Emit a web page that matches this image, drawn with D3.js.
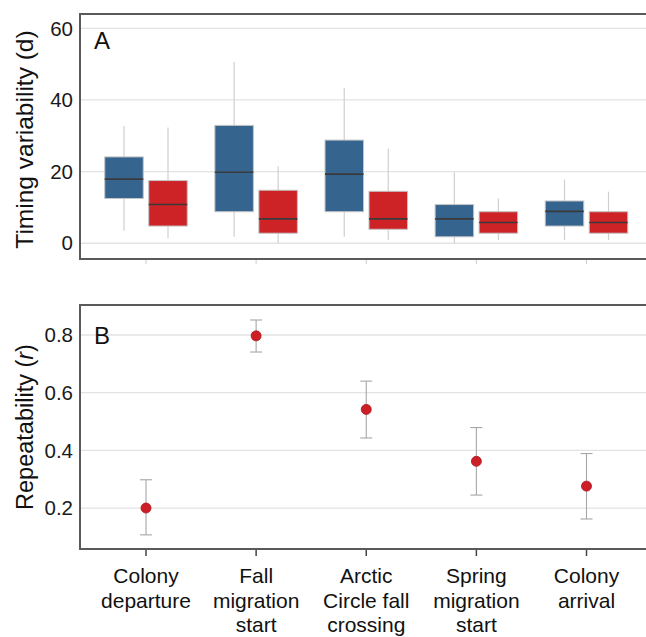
<!DOCTYPE html>
<html>
<head>
<meta charset="utf-8">
<script src="https://cdn.jsdelivr.net/npm/d3@7"></script>
<style>
  body { margin: 0; background: #fff; }
  svg { display: block; font-family: "Liberation Sans", Arial, sans-serif; }
</style>
</head>
<body>
<svg id="chart" width="646" height="637"></svg>
<script>
// ---- data ----
const categories = ["Colony departure", "Fall migration start", "Arctic Circle fall crossing", "Spring migration start", "Colony arrival"];
const categoryLines = [["Colony", "departure"], ["Fall", "migration", "start"], ["Arctic", "Circle fall", "crossing"], ["Spring", "migration", "start"], ["Colony", "arrival"]];
// box stats: [whiskerLow, q1, median, q3, whiskerHigh]
const blueBoxes = [
  [3.5, 12.5, 17.9, 24.1, 32.8],
  [1.8, 8.8, 19.8, 32.9, 50.6],
  [1.8, 8.8, 19.3, 28.8, 43.4],
  [0.0, 1.8, 6.8, 10.8, 19.8],
  [0.9, 4.8, 8.9, 11.8, 17.8]
];
const redBoxes = [
  [1.4, 4.8, 10.8, 17.5, 32.3],
  [0.0, 2.8, 6.8, 14.8, 21.5],
  [0.9, 3.9, 6.8, 14.5, 26.4],
  [0.9, 2.8, 5.8, 8.8, 12.5],
  [0.9, 2.8, 5.8, 8.8, 14.4]
];
const repeatability = [0.200, 0.797, 0.542, 0.362, 0.276];
const repLow = [0.107, 0.741, 0.443, 0.245, 0.162];
const repHigh = [0.298, 0.852, 0.640, 0.479, 0.389];
const ticksA = [0, 20, 40, 60];
const ticksB = [0.2, 0.4, 0.6, 0.8];

// ---- layout ----
const svg = d3.select("#chart");
const left = 80, right = 662;
const x = d3.scalePoint().domain(categories).range([146, 586.5]);
const yA = d3.scaleLinear().domain([-4.4, 64]).range([259, 14]);
const yB = d3.scaleLinear().domain([0.058, 0.904]).range([549, 305]);

const blue = "#35648f", red = "#cd2327";
const boxW = 38.5, off = 22;

function frame(y, ticks, fmt) {
  const g = svg.append("g");
  g.selectAll("line.grid").data(ticks).join("line")
    .attr("x1", left).attr("x2", right)
    .attr("y1", d => y(d)).attr("y2", d => y(d))
    .attr("stroke", "#e3e3e3").attr("stroke-width", 1.3);
  g.selectAll("text.tick").data(ticks).join("text")
    .attr("x", 73).attr("y", d => y(d)).attr("dy", "0.35em")
    .attr("text-anchor", "end").attr("font-size", 20.5).attr("fill", "#1a1a1a")
    .text(fmt);
  return g;
}
function border(y) {
  const [y0, y1] = y.range();
  svg.append("path")
    .attr("d", `M${right},${y1}H${left}V${y0}H${right}`)
    .attr("fill", "none").attr("stroke", "#5a5a5a").attr("stroke-width", 2);
}

// ---- panel A ----
frame(yA, ticksA, d => d);
// x ticks (light)
svg.append("g").selectAll("line").data(categories).join("line")
  .attr("x1", d => x(d)).attr("x2", d => x(d))
  .attr("y1", 259).attr("y2", 264)
  .attr("stroke", "#cccccc").attr("stroke-width", 1);

function drawBoxes(data, dx, color) {
  const g = svg.append("g");
  const grp = g.selectAll("g").data(data).join("g")
    .attr("transform", (d, i) => `translate(${x(categories[i]) + dx},0)`);
  grp.append("line")
    .attr("x1", 0).attr("x2", 0)
    .attr("y1", d => yA(d[0])).attr("y2", d => yA(d[4]))
    .attr("stroke", "#cfcfcf").attr("stroke-width", 1.2);
  grp.append("rect")
    .attr("x", -boxW / 2).attr("width", boxW)
    .attr("y", d => yA(d[3])).attr("height", d => yA(d[1]) - yA(d[3]))
    .attr("fill", color).attr("stroke", "#c4c4c4").attr("stroke-width", 1);
  grp.append("line")
    .attr("x1", -boxW / 2).attr("x2", boxW / 2)
    .attr("y1", d => yA(d[2])).attr("y2", d => yA(d[2]))
    .attr("stroke", "#3a3a3a").attr("stroke-width", 1.6);
}
drawBoxes(blueBoxes, -off, blue);
drawBoxes(redBoxes, off, red);
border(yA);

svg.append("text").attr("x", 94).attr("y", 49)
  .attr("font-size", 24).attr("fill", "#111").text("A");
svg.append("text")
  .attr("transform", `translate(33,${(14 + 259) / 2 + 3}) rotate(-90)`)
  .attr("text-anchor", "middle").attr("font-size", 24.5).attr("fill", "#111")
  .text("Timing variability (d)");

// ---- panel B ----
frame(yB, ticksB, d => d.toFixed(1));
const gB = svg.append("g");
const pts = gB.selectAll("g").data(repeatability).join("g")
  .attr("transform", (d, i) => `translate(${x(categories[i])},0)`);
pts.append("line")
  .attr("x1", 0).attr("x2", 0)
  .attr("y1", (d, i) => yB(repLow[i])).attr("y2", (d, i) => yB(repHigh[i]))
  .attr("stroke", "#a6a6a6").attr("stroke-width", 1.1);
pts.append("line")
  .attr("x1", -6).attr("x2", 6)
  .attr("y1", (d, i) => yB(repLow[i])).attr("y2", (d, i) => yB(repLow[i]))
  .attr("stroke", "#a6a6a6").attr("stroke-width", 1.1);
pts.append("line")
  .attr("x1", -6).attr("x2", 6)
  .attr("y1", (d, i) => yB(repHigh[i])).attr("y2", (d, i) => yB(repHigh[i]))
  .attr("stroke", "#a6a6a6").attr("stroke-width", 1.1);
pts.append("circle")
  .attr("cx", 0).attr("cy", d => yB(d)).attr("r", 5)
  .attr("fill", "#cc1f26").attr("stroke", "#a8161c").attr("stroke-width", 0.8);

// x ticks B
svg.append("g").selectAll("line").data(categories).join("line")
  .attr("x1", d => x(d)).attr("x2", d => x(d))
  .attr("y1", 549).attr("y2", 556)
  .attr("stroke", "#444").attr("stroke-width", 1.5);
border(yB);

// x labels
const lab = svg.append("g").selectAll("text").data(categories).join("text")
  .attr("text-anchor", "middle").attr("font-size", 21).attr("fill", "#111");
lab.each(function(d, i) {
  d3.select(this).selectAll("tspan").data(categoryLines[i]).join("tspan")
    .attr("x", x(d)).attr("y", (t, j) => 583 + j * 24.5).text(t => t);
});

svg.append("text").attr("x", 94).attr("y", 344)
  .attr("font-size", 24).attr("fill", "#111").text("B");
const tB = svg.append("text")
  .attr("transform", `translate(33,${(305 + 549) / 2}) rotate(-90)`)
  .attr("text-anchor", "middle").attr("font-size", 23.5).attr("fill", "#111");
tB.append("tspan").text("Repeatability (");
tB.append("tspan").attr("font-style", "italic").text("r");
tB.append("tspan").text(")");
</script>
</body>
</html>
